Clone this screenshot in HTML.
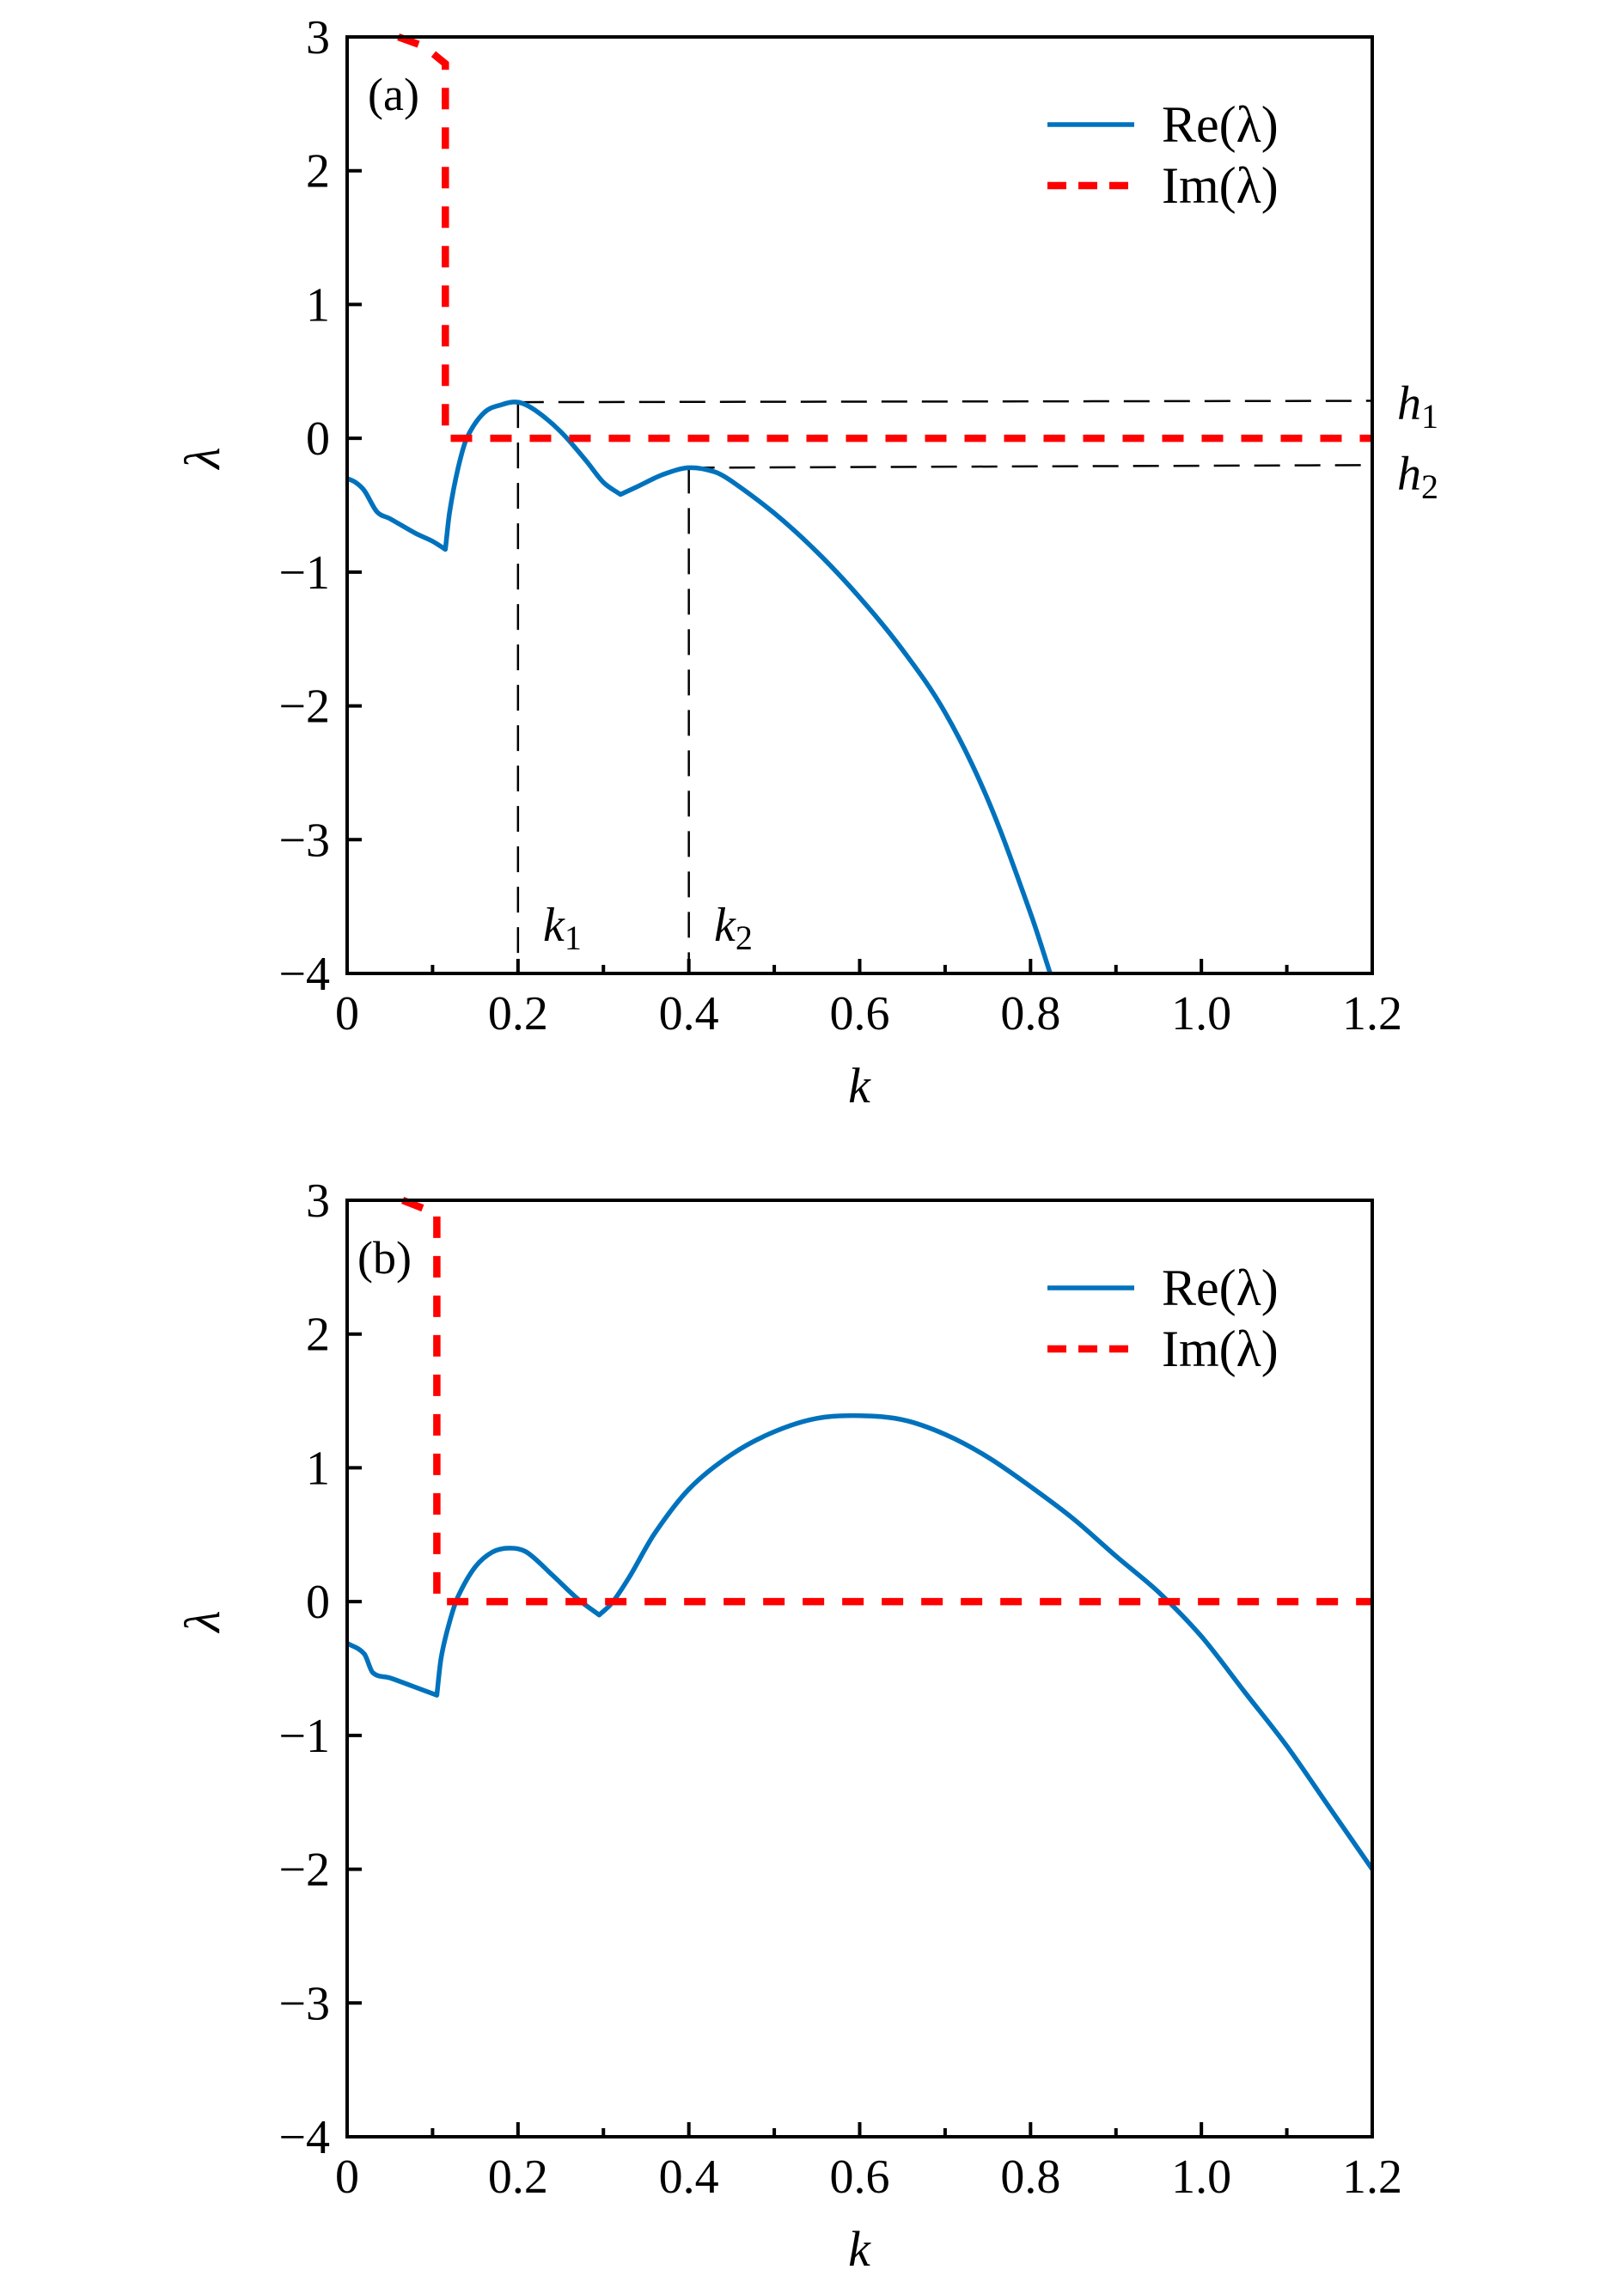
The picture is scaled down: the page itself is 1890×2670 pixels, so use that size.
<!DOCTYPE html>
<html><head><meta charset="utf-8"><style>
html,body{margin:0;padding:0;background:#fff;}
svg{display:block;}
text{font-family:"Liberation Serif",serif;fill:#000;}
</style></head><body>
<svg id="fig" width="1890" height="2670" viewBox="0 0 1890 2670" xmlns="http://www.w3.org/2000/svg"></svg>
<script>
// Panel (a) data
const kReA = [0,0.01,0.02,0.035,0.05,0.08,0.1,0.115,0.12,0.13,0.14,0.16,0.18,0.2,0.22,0.25,0.28,0.3,0.32,0.34,0.37,0.4,0.43,0.45,0.5,0.55,0.6,0.65,0.7,0.75,0.8,0.823];
const reA  = [-0.3,-0.33,-0.39,-0.55,-0.6,-0.71,-0.77,-0.83,-0.55,-0.22,0.0,0.19,0.25,0.27,0.21,0.05,-0.17,-0.33,-0.42,-0.36,-0.27,-0.22,-0.25,-0.32,-0.56,-0.85,-1.19,-1.58,-2.05,-2.7,-3.55,-4.0];
const kImA = [0.06,0.09,0.115,0.115,0.115,1.2];
const imA  = [3.0,2.93,2.8,2.0,0.0,0.0];
// Panel (b) data
const kReB = [0,0.02,0.03,0.05,0.08,0.105,0.11,0.12,0.13,0.15,0.17,0.19,0.21,0.24,0.27,0.295,0.31,0.33,0.36,0.4,0.45,0.5,0.55,0.6,0.65,0.7,0.75,0.8,0.85,0.9,0.95,1.0,1.05,1.1,1.15,1.2];
const reB  = [-0.31,-0.39,-0.53,-0.57,-0.64,-0.7,-0.42,-0.15,0.04,0.26,0.37,0.4,0.37,0.2,0.02,-0.1,-0.01,0.18,0.51,0.84,1.1,1.27,1.37,1.39,1.36,1.25,1.08,0.86,0.62,0.34,0.07,-0.26,-0.67,-1.08,-1.54,-2.0];
const kImB = [0.065,0.085,0.105,0.105,0.105,1.2];
const imB  = [3.0,2.95,2.9,2.0,0.0,0.0];
// axes ticks
const xTicks = [0,0.2,0.4,0.6,0.8,1.0,1.2];
const xTickLabels = ["0","0.2","0.4","0.6","0.8","1.0","1.2"];
const xMinor = [0.1,0.3,0.5,0.7,0.9,1.1];
const yTicks = [3,2,1,0,-1,-2,-3,-4];
const yTickLabels = ["3","2","1","0","\u22121","\u22122","\u22123","\u22124"];
// guide markers in panel (a)
const guideK = [0.2,0.4];
const guideH = [0.27,-0.22];
const guideHEnd = [0.28,-0.2];
// kink indices (sharp corners) per panel
const kinksA = [7,18];
const kinksB = [5,15];

const NS="http://www.w3.org/2000/svg";
const svg=document.getElementById('fig');
function mk(tag,attrs,parent){const e=document.createElementNS(NS,tag);for(const a in attrs)e.setAttribute(a,attrs[a]);(parent||svg).appendChild(e);return e;}
function smooth(pts,kinks){
  const n=pts.length;
  const m=[];
  for(let i=0;i<n;i++){
    if(kinks.includes(i)){m.push(null);continue;}
    const a=pts[Math.max(0,i-1)],b=pts[Math.min(n-1,i+1)];
    m.push((b[1]-a[1])/(b[0]-a[0]));
  }
  let d='M'+pts[0][0].toFixed(1)+' '+pts[0][1].toFixed(1);
  for(let i=0;i<n-1;i++){
    const p1=pts[i],p2=pts[i+1],dx=p2[0]-p1[0];
    const s=(p2[1]-p1[1])/dx;
    const m1=m[i]===null?s:m[i], m2=m[i+1]===null?s:m[i+1];
    d+='C'+(p1[0]+dx/3).toFixed(1)+' '+(p1[1]+m1*dx/3).toFixed(1)+' '+(p2[0]-dx/3).toFixed(1)+' '+(p2[1]-m2*dx/3).toFixed(1)+' '+p2[0].toFixed(1)+' '+p2[1].toFixed(1);
  }
  return d;
}

const X0=404,X1=1597;
function panel(top,kRe,re,kIm,im,tag,legY,guides,kinks){
  const bottom=top+1090;
  const sx=k=>X0+(k/1.2)*(X1-X0);
  const sy=v=>top+(3-v)/7*(bottom-top);
  const g=mk('g',{});
  
  
  if(guides){
    for(let i=0;i<guideK.length;i++){
      const vl=mk('line',{x1:sx(guideK[i]),y1:sy(guideH[i]),x2:sx(guideK[i]),y2:bottom,stroke:'#000','stroke-width':2.5,'stroke-dasharray':'30 17'},g);
      
      
      const hl=mk('line',{x1:sx(guideK[i]),y1:sy(guideH[i]),x2:X1,y2:sy(guideHEnd[i]),stroke:'#000','stroke-width':2.5,'stroke-dasharray':'30 17'},g);
      
      
    }
  }
  const pts=kRe.map((k,i)=>[sx(k),sy(re[i])]);
  const p=mk('path',{d:smooth(pts,kinks),fill:'none',stroke:'#0072bd','stroke-width':5.5,'stroke-linejoin':'round'},g);
  
  
  let d2='';
  for(let i=0;i<kIm.length;i++)d2+=(i?'L':'M')+sx(kIm[i]).toFixed(1)+' '+sy(im[i]).toFixed(1);
  const p2=mk('path',{d:d2,fill:'none',stroke:'#ff0000','stroke-width':8.5,'stroke-dasharray':'25 21'},g);
  
  
  const fr=mk('rect',{x:X0,y:top,width:X1-X0,height:bottom-top,fill:'none',stroke:'#000','stroke-width':4},g);
  
  
  for(let i=0;i<xTicks.length;i++){
    const x=sx(xTicks[i]);
    const t=mk('line',{x1:x,y1:bottom,x2:x,y2:bottom-17,stroke:'#000','stroke-width':4},g);
    
    
    const l=mk('text',{x:x,y:bottom+65,'font-size':56,'text-anchor':'middle'},g);
    l.textContent=xTickLabels[i];
    
    
  }
  for(const mm of xMinor){
    const t=mk('line',{x1:sx(mm),y1:bottom,x2:sx(mm),y2:bottom-10,stroke:'#000','stroke-width':4},g);
    
    
  }
  for(let i=0;i<yTicks.length;i++){
    const y=sy(yTicks[i]);
    const t=mk('line',{x1:X0,y1:y,x2:X0+17,y2:y,stroke:'#000','stroke-width':4},g);
    
    
    const l=mk('text',{x:X0-20,y:y+19,'font-size':56,'text-anchor':'end'},g);
    l.textContent=yTickLabels[i];
    
    
  }
  const xl=mk('text',{x:1000,y:bottom+150,'font-size':58,'font-style':'italic','text-anchor':'middle'},g);
  xl.textContent='k';
  
  
  const yl=mk('text',{x:0,y:0,'font-size':58,'font-style':'italic','text-anchor':'middle',transform:'translate(255,'+((top+bottom)/2-55)+') rotate(-90)'},g);
  yl.textContent='λ';
  
  
  const pl=mk('text',{x:tag==='a'?428:416,y:top+85,'font-size':54},g);
  pl.textContent='('+tag+')';
  
  
  const lg=mk('g',{},g);
  
  
  const l1=mk('line',{x1:1219,y1:legY,x2:1320,y2:legY,stroke:'#0072bd','stroke-width':5.5},lg);
  
  
  const t1=mk('text',{x:1352,y:legY+20,'font-size':60},lg);
  t1.textContent='Re(λ)';
  
  
  const l2=mk('line',{x1:1219,y1:legY+71,x2:1320,y2:legY+71,stroke:'#ff0000','stroke-width':8.5,'stroke-dasharray':'22 14'},lg);
  
  
  const t2=mk('text',{x:1352,y:legY+91,'font-size':60},lg);
  t2.textContent='Im(λ)';
  
  
  if(guides){
    const ann=[['h','1',1626,488],['h','2',1626,570],['k','1',632,1095],['k','2',831,1095]];
    for(const a of ann){
      const t=mk('text',{x:a[2],y:a[3],'font-size':56,'font-style':'italic'},g);
      t.textContent=a[0];
      const s=mk('tspan',{'font-size':40,'font-style':'normal',dy:10},t);
      s.textContent=a[1];
      
      
    }
  }
}
panel(43,kReA,reA,kImA,imA,'a',145,true,kinksA);
panel(1397,kReB,reB,kImB,imB,'b',1499,false,kinksB);
</script>
</body></html>
